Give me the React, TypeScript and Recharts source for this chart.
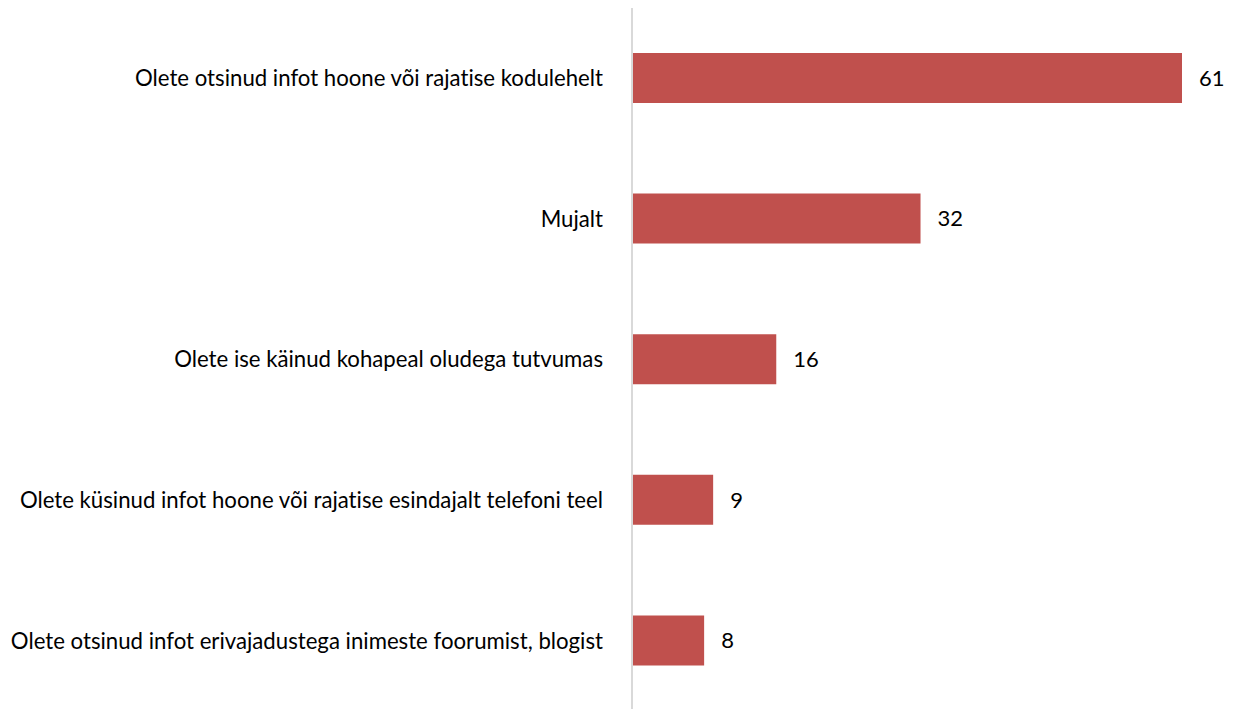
import React from 'react';
import { BarChart, Bar, XAxis, YAxis, LabelList } from 'recharts';

const categories = [
  'Olete otsinud infot hoone või rajatise kodulehelt',
  'Mujalt',
  'Olete ise käinud kohapeal oludega tutvumas',
  'Olete küsinud infot hoone või rajatise esindajalt telefoni teel',
  'Olete otsinud infot erivajadustega inimeste foorumist, blogist',
];
const values = [61, 32, 16, 9, 8];

const chartData = categories.map((name, i) => ({ name, value: values[i] }));

const FONT = 'Lato, "Open Sans", sans-serif';

const App: React.FC = () => {
  return (
    <div style={{ width: 1225, height: 703, fontFamily: FONT, fontVariantLigatures: 'none' }}>
      <BarChart
        width={1225}
        height={703}
        data={chartData}
        layout="vertical"
        margin={{ top: 0, right: 51, bottom: 0, left: 0 }}
      >
        <XAxis type="number" domain={[0, 61]} hide />
        <YAxis
          type="category"
          dataKey="name"
          width={624}
          tickLine={false}
          tickSize={0}
          tickMargin={29}
          axisLine={{ stroke: '#d9d9d9', strokeWidth: 2 }}
          tick={{ fill: '#000000', fontSize: 22.2, fontFamily: FONT }}
          interval={0}
        />
        <Bar dataKey="value" fill="#c0504d" barSize={50} isAnimationActive={false}>
          <LabelList
            dataKey="value"
            position="right"
            offset={17}
            fill="#000000"
            fontSize={22}
            fontFamily={FONT}
          />
        </Bar>
      </BarChart>
    </div>
  );
};

export default App;
